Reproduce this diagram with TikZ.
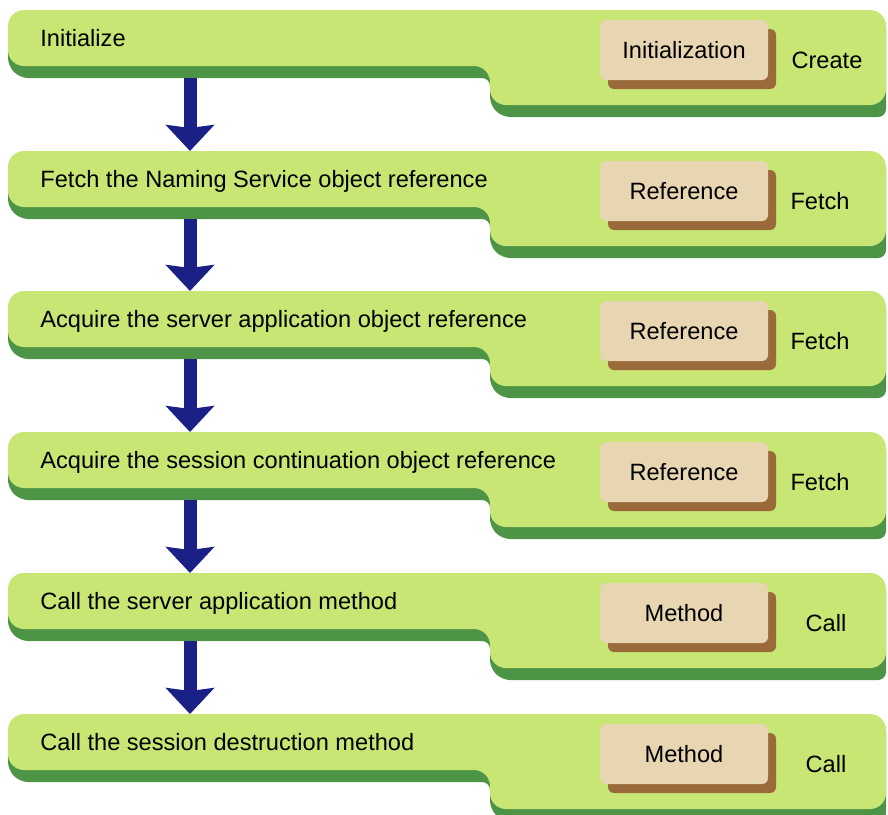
\documentclass[tikz,border=0pt]{standalone}
\usepackage{fontspec}
\setmainfont{Liberation Sans}
\usepackage{tikz}
\usetikzlibrary{arrows.meta,shadows}

\definecolor{stagegreen}{HTML}{C8E673}
\definecolor{shadegreen}{HTML}{4E9447}
\definecolor{boxtan}{HTML}{E8D5B2}
\definecolor{boxbrown}{HTML}{9A6A3A}
\definecolor{flownavy}{HTML}{1B2087}

\tikzstyle{stagetext} = [anchor=base west, inner sep=0pt, font=\fontsize{11.8}{13}\selectfont, text=black]
\tikzstyle{objbox} = [fill=boxtan, rounded corners=3pt, minimum width=84pt, minimum height=30pt,
  font=\fontsize{11.8}{13}\selectfont, text=black,
  general shadow={shadow xshift=4pt, shadow yshift=-4.5pt, fill=boxbrown}]
\tikzstyle{sidetext} = [inner sep=0pt, font=\fontsize{11.8}{13}\selectfont, text=black]
\tikzstyle{flowarrow} = [draw=flownavy, line width=6.5pt, -{Stealth[length=13pt, width=24pt, inset=1.5pt]}]

% one stage: #1 name, #2 top, #3 task, #4 object, #5 action, #6 action x
\newcommand{\stage}[6]{%
  \fill[shadegreen, rounded corners=4] (8,#2+10) -- (886,#2+10) -- (886,#2+107) -- (502,#2+107)
    -- (490,#2+95) -- (490,#2+68) -- (20,#2+68) -- (8,#2+56) -- cycle;
  \fill[stagegreen, rounded corners=8] (8,#2) -- (886,#2) -- (886,#2+95) -- (490,#2+95)
    -- (490,#2+56) -- (8,#2+56) -- cycle;
  \node[stagetext] (#1) at (40,#2+36) {#3};
  \node[objbox] (#1obj) at (684,#2+40) {#4};
  \node[sidetext] (#1act) at (#6,#2+50) {#5};
  \coordinate (#1out) at (190,#2+68);
  \coordinate (#1in) at (190,#2);
}

\begin{document}
\begin{tikzpicture}[x=0.5pt,y=-0.5pt]
	\useasboundingbox (0,0) rectangle (888,814);
	\clip (0,0) rectangle (888,814);
	\stage{init}{10}{Initialize}{Initialization}{Create}{827}
	\stage{naming}{151}{Fetch the Naming Service object reference}{Reference}{Fetch}{820}
	\stage{server}{291}{Acquire the server application object reference}{Reference}{Fetch}{820}
	\stage{session}{432}{Acquire the session continuation object reference}{Reference}{Fetch}{820}
	\stage{call}{573}{Call the server application method}{Method}{Call}{826}
	\stage{destroy}{714}{Call the session destruction method}{Method}{Call}{826}
	\draw[flowarrow] (initout) -- (namingin);
	\draw[flowarrow] (namingout) -- (serverin);
	\draw[flowarrow] (serverout) -- (sessionin);
	\draw[flowarrow] (sessionout) -- (callin);
	\draw[flowarrow] (callout) -- (destroyin);
\end{tikzpicture}
\end{document}
